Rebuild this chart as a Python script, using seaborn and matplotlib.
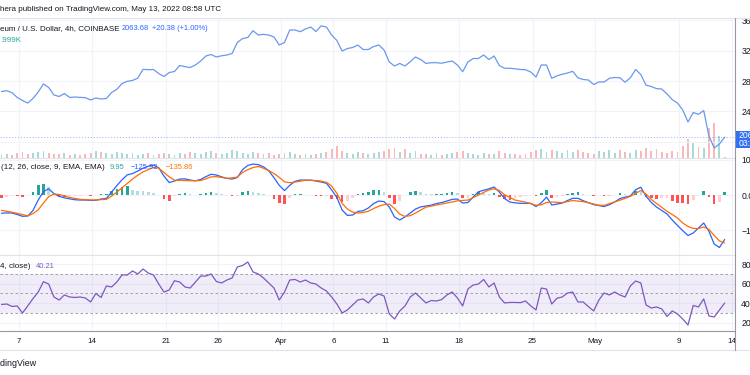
import numpy as np
import pandas as pd
import matplotlib
matplotlib.use("Agg")
import matplotlib.pyplot as plt
from matplotlib.lines import Line2D
from matplotlib.patches import Rectangle
import seaborn as sns

W, H = 750, 375

# 12h samples, starting 2022-03-05 08:00
price = [
    2662, 2673, 2647, 2584, 2544, 2511, 2570, 2656, 2761, 2715,
    2616, 2597, 2636, 2584, 2590, 2586, 2581, 2551, 2577, 2564,
    2570, 2649, 2691, 2767, 2796, 2807, 2839, 2953, 2948, 2951,
    2898, 2859, 2911, 2925, 3003, 2988, 2977, 3010, 3062, 3128,
    3148, 3115, 3131, 3141, 3161, 3305, 3357, 3371, 3460, 3403,
    3412, 3403, 3377, 3272, 3305, 3469, 3469, 3447, 3482, 3508,
    3449, 3524, 3508, 3403, 3331, 3193, 3226, 3239, 3272, 3213,
    3213, 3252, 3272, 3207, 3049, 2997, 3030, 2997, 3053, 3115,
    3082, 3030, 3040, 3040, 3033, 3049, 3062, 3010, 2922, 3049,
    3095, 3095, 3141, 3082, 3128, 3003, 2967, 2967, 2960, 2951,
    2948, 2918, 2852, 3010, 3010, 2835, 2868, 2888, 2905, 2927,
    2842, 2820, 2813, 2754, 2787, 2787, 2835, 2846, 2843, 2784,
    2842, 2951, 2885, 2745, 2728, 2700, 2695, 2630, 2556, 2511,
    2420, 2262, 2387, 2363, 2413, 2079, 1921, 1974, 2063.68,
]

volume_k = [
    21, 28, 21, 35, 42, 28, 35, 42, 49, 35, 28,
    28, 35, 21, 28, 21, 28, 35, 49, 42, 35,
    28, 42, 35, 28, 35, 21, 28, 35, 21, 28,
    35, 28, 21, 35, 28, 42, 35, 28, 42, 49,
    35, 28, 35, 56, 49, 35, 28, 42, 35, 28,
    35, 21, 28, 35, 42, 28, 21, 28, 21, 28,
    35, 42, 63, 84, 49, 35, 28, 42, 35, 28,
    35, 42, 49, 63, 70, 42, 63, 35, 49, 28,
    28, 21, 35, 21, 28, 35, 42, 49, 35, 28,
    21, 35, 28, 28, 49, 35, 28, 28, 21, 28,
    42, 56, 63, 42, 56, 49, 35, 56, 42, 56,
    42, 35, 28, 49, 42, 56, 35, 56, 42, 35,
    56, 49, 70, 49, 63, 42, 35, 49, 42, 84,
    133, 105, 77, 70, 210, 245, 154, 6.0,
]

macd = [
    -51.6, -50.7, -51.0, -55.2, -60.3, -59.5, -43.9, -14.2, 9.9, 17.8,
    4.0, -3.7, -7.9, -10.8, -13.3, -14.2, -14.2, -15.3, -15.0, -11.3,
    -9.6, 8.5, 26.6, 43.3, 57.2, 60.9, 68.0, 75.9, 81.6, 85.0,
    77.3, 53.8, 35.4, 39.7, 45.3, 45.9, 42.5, 40.2, 44.2, 52.1,
    58.9, 56.7, 51.6, 47.3, 45.3, 49.6, 72.2, 83.9, 87.8, 86.1,
    79.9, 68.8, 49.0, 27.5, 12.7, 27.5, 38.8, 42.5, 42.5, 42.2,
    39.7, 36.8, 33.4, 14.4, -7.1, -42.5, -57.8, -56.7, -46.7, -44.5,
    -36.8, -24.1, -17.0, -18.7, -34.0, -62.3, -70.8, -61.8, -51.0, -39.7,
    -33.7, -31.2, -28.6, -24.1, -21.2, -17.0, -12.2, -11.3, -22.7, -21.2,
    -5.7, 9.3, 13.3, 17.6, 22.7, 8.5, -9.9, -19.8, -22.1, -23.5,
    -23.5, -23.5, -32.6, -22.1, -5.7, -28.3, -25.5, -22.9, -15.6, -9.3,
    -9.3, -16.1, -21.8, -27.2, -30.0, -32.6, -27.5, -19.8, -10.2, -5.9,
    -2.8, 15.0, 22.1, -3.4, -21.2, -34.0, -43.9, -53.8, -70.8, -86.4,
    -101.1, -114.7, -107.7, -93.5, -79.3, -102.8, -138.8, -148.7, -125.92,
]

signal = [
    -43.3, -45.9, -48.7, -51.8, -55.5, -59.2, -52.7, -41.9, -22.7, -4.5,
    2.8, 1.4, -2.8, -6.8, -9.6, -12.2, -13.0, -13.9, -13.9, -13.0,
    -12.2, -3.1, 8.2, 20.4, 32.9, 45.3, 56.1, 65.7, 72.2, 78.5,
    76.2, 64.0, 51.6, 42.2, 41.6, 40.8, 40.5, 40.5, 41.1, 45.9,
    51.6, 52.1, 49.9, 47.3, 48.7, 51.0, 64.3, 72.0, 77.9, 81.0,
    75.9, 69.1, 60.9, 50.1, 37.4, 35.1, 36.8, 39.1, 41.9, 41.9,
    41.1, 39.7, 36.0, 25.5, 4.8, -23.8, -39.7, -48.4, -51.0, -49.6,
    -45.9, -38.2, -31.7, -27.2, -25.5, -38.2, -53.8, -60.9, -58.4, -51.0,
    -42.5, -34.3, -31.2, -28.3, -25.5, -22.7, -19.5, -16.4, -15.3, -14.2,
    -7.6, 0.0, 7.4, 14.4, 17.6, 13.0, 0.8, -6.5, -14.2, -17.3,
    -20.1, -24.4, -28.9, -27.8, -21.2, -19.8, -20.7, -21.5, -18.7, -15.6,
    -17.0, -18.7, -21.8, -25.5, -28.9, -29.2, -24.4, -19.3, -14.7, -9.6,
    -3.7, 4.8, 12.7, 2.8, -12.5, -24.1, -34.8, -46.2, -55.2, -65.2,
    -79.3, -89.2, -94.6, -94.9, -90.7, -97.5, -114.7, -130.0, -135.86,
]

rsi = [
    38.7, 39.2, 36.7, 37.2, 30.0, 37.2, 44.7, 51.5, 62.1, 59.7,
    46.4, 43.3, 48.5, 46.4, 45.9, 46.4, 45.4, 41.3, 50.0, 45.9,
    57.7, 56.7, 61.8, 69.0, 69.0, 73.1, 70.0, 75.1, 71.0, 69.0,
    59.7, 51.5, 53.6, 63.1, 61.8, 56.7, 55.6, 61.8, 67.9, 67.9,
    70.0, 62.3, 60.8, 63.8, 65.9, 77.2, 78.7, 82.3, 72.1, 70.0,
    65.9, 60.8, 55.6, 43.3, 51.5, 63.8, 64.4, 61.8, 63.8, 60.8,
    59.7, 55.6, 52.6, 46.4, 39.2, 30.0, 33.1, 38.2, 43.3, 44.4,
    40.3, 46.4, 49.5, 47.4, 29.0, 23.8, 32.1, 37.2, 46.4, 50.5,
    45.4, 40.3, 42.8, 42.3, 43.8, 48.5, 51.5, 45.4, 37.2, 54.6,
    58.7, 59.7, 64.4, 56.7, 60.8, 46.4, 40.3, 40.8, 40.8, 40.6,
    42.3, 37.2, 33.1, 55.6, 54.6, 39.2, 45.1, 46.4, 50.5, 51.5,
    41.3, 41.3, 36.5, 32.1, 43.3, 50.5, 48.5, 51.5, 48.5, 46.4,
    57.7, 62.8, 60.8, 38.2, 35.1, 36.2, 34.1, 26.4, 32.1, 29.0,
    23.8, 17.7, 37.7, 36.2, 44.4, 26.9, 25.9, 33.1, 40.21,
]

tick_dates = ["2022-03-07", "2022-03-14", "2022-03-21", "2022-03-26", "2022-04-01", "2022-04-06",
              "2022-04-11", "2022-04-18", "2022-04-25", "2022-05-01", "2022-05-09", "2022-05-14"]
tick_labels = ["7", "14", "21", "26", "Apr", "6", "11", "18", "25", "May", "9", "14"]

price_ticks = [2400, 2800, 3200, 3600]
macd_ticks = [-100, 0, 100]
rsi_ticks = [20, 40, 60, 80]

df = pd.DataFrame({
    "time": pd.date_range("2022-03-05 08:00", periods=len(price), freq="12h"),
    "price": price, "volume": volume_k, "macd": macd, "signal": signal, "rsi": rsi,
})
df["hist"] = df["macd"] - df["signal"]

sns.set_style("white")
plt.rcParams["font.family"] = ["Liberation Sans", "DejaVu Sans"]

TXT = "#131722"
GRID = "#f0f3fa"
FS = 5.8
NFS = 5.4

fig = plt.figure(figsize=(W / 100, H / 100), dpi=100)
fig.patch.set_facecolor("white")


def box(top, bottom, left=0, right=735):
    return [left / W, 1 - bottom / H, (right - left) / W, (bottom - top) / H]


def px(x, y):
    return x / W, 1 - y / H


ax_p = fig.add_axes(box(17.5, 158))
ax_m = fig.add_axes(box(158, 255), sharex=ax_p)
ax_r = fig.add_axes(box(255, 331), sharex=ax_p)
ax_v = ax_p.twinx()
ax_v.set_zorder(ax_p.get_zorder() - 1)
ax_p.patch.set_visible(False)

# volume bars
up = df["price"].diff().fillna(0) >= 0
vcol = np.where(up, "#26a69a", "#ef5350")
ax_v.bar(df["time"], df["volume"], width=0.18, color=vcol, alpha=0.4, linewidth=0)
ax_v.set_ylim(0, 983)
ax_v.set_yticks([])

# price
sns.lineplot(data=df, x="time", y="price", ax=ax_p, color="#6a98ef", linewidth=0.9)
ax_p.axhline(2063.68, color="#2962ff", lw=0.7, ls=(0, (1, 2)), alpha=0.5)
ax_p.axhline(2000, color=GRID, lw=0.8, zorder=0)
ax_p.set_ylim(1790, 3633)
ax_p.set_yticks(price_ticks)
ax_p.set_yticklabels([f"{v}.00" for v in price_ticks])

# MACD
prev = df["hist"].shift(1).fillna(0)
hcol = np.where(df["hist"] >= 0,
                np.where(df["hist"] > prev, "#26a69a", "#b2dfdb"),
                np.where(df["hist"] < prev, "#ff5252", "#ffcdd2"))
ax_m.bar(df["time"], df["hist"], width=0.25, color=hcol, linewidth=0)
sns.lineplot(data=df, x="time", y="macd", ax=ax_m, color="#2962ff", linewidth=0.9)
sns.lineplot(data=df, x="time", y="signal", ax=ax_m, color="#ff6d00", linewidth=0.9)
ax_m.set_ylim(-170, 105)
ax_m.set_yticks(macd_ticks)
ax_m.set_yticklabels(["\u2212100.00", "0.00", "100.00"])

# RSI
ax_r.axhspan(30, 70, color="#7e57c2", alpha=0.1, lw=0)
for lvl in (30, 50, 70):
    ax_r.axhline(lvl, color="#787b86", lw=0.6, ls=(0, (3, 3)), alpha=0.8)
sns.lineplot(data=df, x="time", y="rsi", ax=ax_r, color="#7e57c2", linewidth=0.9)
ax_r.set_ylim(11.5, 89.5)
ax_r.set_yticks(rsi_ticks)
ax_r.set_yticklabels([f"{v}.00" for v in rsi_ticks])

ax_r.set_xlim(pd.Timestamp("2022-03-05 04:30"), pd.Timestamp("2022-05-14 07:40"))
ax_r.set_xticks(pd.to_datetime(tick_dates))
ax_r.set_xticklabels(tick_labels)

for ax in (ax_p, ax_m, ax_r):
    ax.set_xlabel("")
    ax.set_ylabel("")
    ax.yaxis.tick_right()
    ax.grid(True, color=GRID, lw=0.8)
    ax.set_axisbelow(True)
    ax.tick_params(axis="y", length=0, pad=4.5, labelsize=6.2, labelcolor=TXT)
    ax.tick_params(axis="x", length=0, pad=5, labelsize=FS, labelcolor=TXT)
    for s in ax.spines.values():
        s.set_visible(False)
ax_p.tick_params(labelbottom=False)
ax_m.tick_params(labelbottom=False)
ax_v.tick_params(labelbottom=False, length=0)
for s in ax_v.spines.values():
    s.set_visible(False)

# frame lines
fig.add_artist(Line2D([0, 1], [1 - 17.5 / H] * 2, color="#e0e3eb", lw=0.8))
fig.add_artist(Line2D([0, 735 / W], [1 - 158 / H] * 2, color="#e0e3eb", lw=0.8))
fig.add_artist(Line2D([0, 735 / W], [1 - 255 / H] * 2, color="#e0e3eb", lw=0.8))
fig.add_artist(Line2D([0, 735 / W], [1 - 331 / H] * 2, color="#9598a1", lw=0.8))
fig.add_artist(Line2D([0, 1], [1 - 350 / H] * 2, color="#e0e3eb", lw=0.8))
fig.add_artist(Line2D([735 / W] * 2, [1 - 17.5 / H, 1 - 350 / H], color="#9598a1", lw=0.8))

# last price label
fig.add_artist(Rectangle(px(735.5, 148), 16 / W, 17 / H, color="#2f6ff5", lw=0))
fig.text(*px(739, 135.5), "2063.68", color="white", fontsize=6.2, va="center")
fig.text(*px(739, 144), "03:01:27", color="white", fontsize=6.2, va="center")

# header and legends
fig.text(*px(0, 9.5), "hera published on TradingView.com, May 13, 2022 08:58 UTC",
         color=TXT, fontsize=FS, va="center")
fig.text(*px(0, 29), "eum / U.S. Dollar, 4h, COINBASE", color=TXT, fontsize=FS, va="center")
fig.text(*px(122, 29), "2063.68", color="#2962ff", fontsize=NFS, va="center")
fig.text(*px(152, 29), "+20.38 (+1.00%)", color="#2962ff", fontsize=NFS, va="center")
fig.text(*px(0, 41), ".999K", color="#26a69a", fontsize=FS, va="center")

fig.text(*px(1, 168), "(12, 26, close, 9, EMA, EMA)", color=TXT, fontsize=FS, va="center")
fig.text(*px(110, 168), "9.95", color="#26a69a", fontsize=NFS, va="center")
fig.text(*px(131, 168), "\u2212125.92", color="#2962ff", fontsize=NFS, va="center")
fig.text(*px(166, 168), "\u2212135.86", color="#ff6d00", fontsize=NFS, va="center")

fig.text(*px(0, 267), "4, close)", color=TXT, fontsize=FS, va="center")
fig.text(*px(36, 267), "40.21", color="#7e57c2", fontsize=NFS, va="center")

fig.text(*px(37, 363), "TradingView", color=TXT, fontsize=6.4, va="center", ha="right")

fig.savefig("out.png", dpi=100, facecolor="white")
